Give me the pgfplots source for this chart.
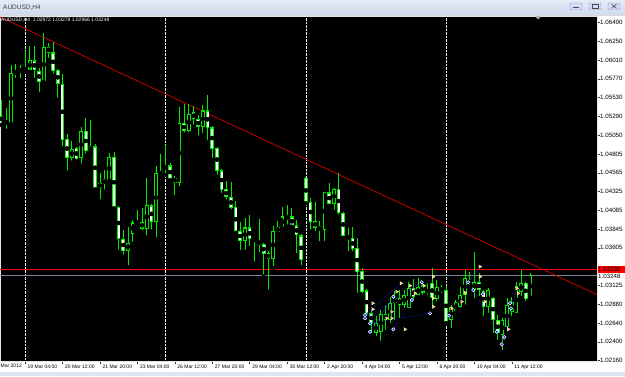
\documentclass[border=0pt]{standalone}
\usepackage{pgfplots}
\pgfplotsset{compat=1.18}
\usepackage{pgfplotstable}
\usepackage{fontspec}
\setmainfont{Liberation Sans}
\definecolor{candle}{RGB}{0,235,0}
\definecolor{bidgray}{RGB}{119,136,153}
\definecolor{titletop}{RGB}{228,236,247}
\definecolor{titlebot}{RGB}{205,219,238}
\definecolor{strip}{RGB}{219,230,244}
\definecolor{mkorange}{RGB}{255,170,40}
\definecolor{mkblue}{RGB}{20,40,255}

\pgfplotstableread{
i o h l c
-3 1.05200 1.05948 1.05191 1.05841
-2 1.05836 1.05957 1.05755 1.05871
-1 1.05862 1.05948 1.05755 1.05893
0 1.05890 1.06127 1.05862 1.05896
1 1.05893 1.06191 1.05862 1.06003
4 1.05734 1.06354 1.05730 1.06175
10 1.04759 1.04973 1.04695 1.04867
12 1.04759 1.05149 1.04657 1.05098
14 1.04845 1.05243 1.04823 1.04909
16 1.04375 1.04567 1.04204 1.04431
17 1.04431 1.04602 1.04323 1.04477
18 1.04477 1.04823 1.04460 1.04764
22 1.03567 1.03871 1.03354 1.03666
23 1.03781 1.03964 1.03653 1.03926
24 1.03926 1.04089 1.03875 1.03931
26 1.03854 1.04495 1.03734 1.04149
28 1.03935 1.04653 1.03713 1.04559
29 1.04537 1.04807 1.04508 1.04589
30 1.04611 1.04922 1.04537 1.04653
33 1.04439 1.05413 1.04367 1.05200
35 1.05105 1.05448 1.05059 1.05319
38 1.05157 1.05435 1.05050 1.05362
47 1.03691 1.03990 1.03554 1.03862
53 1.03464 1.03887 1.03341 1.03820
54 1.03811 1.03948 1.03790 1.03867
55 1.03875 1.04131 1.03854 1.04003
64 1.03832 1.04323 1.03662 1.04311
66 1.04175 1.04367 1.04067 1.04354
75 1.02512 1.02730 1.02448 1.02640
76 1.02525 1.02807 1.02384 1.02755
78 1.02678 1.02973 1.02614 1.02896
79 1.02896 1.03050 1.02653 1.02960
81 1.02871 1.03063 1.02807 1.02999
82 1.02832 1.03166 1.02807 1.03089
84 1.02999 1.03217 1.02973 1.03102
86 1.03037 1.03153 1.02973 1.03063
88 1.02948 1.03191 1.02896 1.03102
89 1.03063 1.03127 1.02999 1.03076
91 1.02678 1.02871 1.02550 1.02845
92 1.02781 1.02935 1.02768 1.02909
93 1.02849 1.03102 1.02807 1.02999
94 1.02999 1.03320 1.02849 1.03217
96 1.03063 1.03550 1.02935 1.03166
99 1.02845 1.03089 1.02743 1.03063
102 1.02486 1.02704 1.02268 1.02678
103 1.02593 1.02960 1.02550 1.02871
104 1.02781 1.02973 1.02704 1.02909
105 1.02768 1.03166 1.02743 1.03105
106 1.03041 1.03320 1.02960 1.03149
108 1.02972 1.03278 1.02966 1.03248
}\bull

\pgfplotstableread{
i o h l c
-5 1.05285 1.05499 1.05178 1.05230
-4 1.05230 1.05393 1.05102 1.05195
2 1.06003 1.06191 1.05755 1.05884
3 1.05871 1.05913 1.05572 1.05734
5 1.06175 1.06226 1.06012 1.06111
6 1.06105 1.06239 1.05811 1.05871
7 1.05880 1.05893 1.05499 1.05704
8 1.05704 1.05828 1.04880 1.04995
9 1.04995 1.05063 1.04567 1.04759
11 1.04875 1.04900 1.04708 1.04752
13 1.05102 1.05264 1.04785 1.04845
15 1.04900 1.04931 1.04354 1.04362
19 1.04764 1.04836 1.04111 1.04127
20 1.04127 1.04144 1.03554 1.03717
21 1.03717 1.03832 1.03490 1.03567
25 1.03931 1.04111 1.03803 1.03854
27 1.04144 1.04162 1.03811 1.03935
31 1.04657 1.04687 1.04473 1.04495
32 1.04495 1.04525 1.04255 1.04444
34 1.05200 1.05448 1.05059 1.05105
36 1.05341 1.05422 1.05157 1.05255
37 1.05251 1.05307 1.05021 1.05157
39 1.05362 1.05563 1.04957 1.05144
40 1.05144 1.05166 1.04730 1.04880
41 1.04880 1.04900 1.04516 1.04593
42 1.04593 1.04611 1.04281 1.04354
43 1.04358 1.04460 1.04195 1.04255
44 1.04255 1.04452 1.04076 1.04118
45 1.04123 1.04204 1.03790 1.03820
46 1.03820 1.03931 1.03546 1.03691
48 1.03862 1.04025 1.03598 1.03721
49 1.03721 1.03746 1.03400 1.03695
50 1.03691 1.03970 1.03525 1.03649
51 1.03649 1.03670 1.03234 1.03528
52 1.03528 1.03567 1.03041 1.03464
56 1.03999 1.04153 1.03875 1.03993
57 1.04003 1.04111 1.03875 1.03887
58 1.03887 1.03961 1.03512 1.03768
59 1.03759 1.03781 1.03354 1.03448
60 1.04495 1.04516 1.04175 1.04187
61 1.04187 1.04239 1.03811 1.03939
62 1.03948 1.04195 1.03790 1.03862
63 1.03875 1.03948 1.03662 1.03832
65 1.04311 1.04431 1.04131 1.04175
67 1.04354 1.04559 1.04003 1.04054
68 1.04054 1.04067 1.03726 1.03755
69 1.03755 1.03854 1.03534 1.03721
70 1.03726 1.03875 1.03534 1.03598
71 1.03598 1.03726 1.02999 1.03298
72 1.03298 1.03341 1.02999 1.03041
73 1.03054 1.03072 1.02700 1.02764
74 1.02768 1.02794 1.02486 1.02640
77 1.02755 1.02871 1.02525 1.02678
80 1.02960 1.03063 1.02678 1.02871
83 1.03089 1.03204 1.02909 1.02973
85 1.03127 1.03166 1.02973 1.03037
87 1.03153 1.03345 1.02832 1.02960
90 1.03063 1.03114 1.02640 1.02657
95 1.03178 1.03294 1.03102 1.03153
97 1.03166 1.03281 1.02960 1.03063
98 1.03041 1.03063 1.02704 1.02849
100 1.02960 1.02973 1.02486 1.02678
101 1.02678 1.02743 1.02396 1.02512
107 1.03149 1.03166 1.02896 1.02957
}\bear

\pgfplotsset{
  wick/.style={only marks, mark=none, forget plot,
    error bars/.cd, y dir=plus, y explicit, error mark=none,
    error bar style={candle, line width=0.75pt}},
  body/.style={only marks, mark=none, forget plot,
    error bars/.cd, y dir=both, y explicit, error mark=none,
    error bar style={#1}},
}

\begin{document}
\begin{tikzpicture}[x=1pt,y=1pt]
\path[use as bounding box] (0,0) rectangle (625,376);
\fill[white] (0,0) rectangle (625,376);
\shade[top color=titletop, bottom color=titlebot] (0,361) rectangle (625,376);
\draw[white!70!gray, line width=0.6pt] (0,361) -- (625,361);
\fill[strip] (0,0) rectangle (625,4.5);
\node[anchor=west, inner sep=0pt, text=black!75, font=\fontsize{6.5}{7}\selectfont] at (3,368.5) {AUDUSD,H4};
\foreach \bx in {570,589,608}{
  \draw[gray!80, fill=white!85!blue, rounded corners=1pt, line width=0.4pt] (\bx,366.5) rectangle ++(12,6.5);
}
\draw[black!70, line width=0.6pt] (573,368.3) -- (579,368.3);
\draw[black!70, line width=0.5pt] (592.5,367.8) rectangle (598.5,371.6);
\draw[black!70, line width=0.6pt] (611.5,367.6) -- (616.5,371.8) (611.5,371.8) -- (616.5,367.6);

\begin{axis}[
  at={(0pt,15pt)}, anchor=south west,
  width=597pt, height=345pt, scale only axis,
  xmin=-5.34, xmax=122.22, ymin=1.021528, ymax=1.065759,
  axis background/.style={fill=black},
  axis line style={draw=white!80!gray, line width=0.6pt},
  tick align=outside, xtick pos=bottom, ytick pos=right,
  major tick length=2.5pt,
  every tick/.style={black!80, line width=0.4pt},
  xtick={0,8,16,24,32,40,48,56,64,72,80,88,96,104},
  xticklabels={19 Mar 04:00,20 Mar 12:00,21 Mar 20:00,23 Mar 04:00,26 Mar 12:00,27 Mar 20:00,29 Mar 04:00,30 Mar 12:00,2 Apr 20:00,4 Apr 04:00,5 Apr 12:00,6 Apr 20:00,10 Apr 04:00,11 Apr 12:00},
  ytick={1.0649,1.0625,1.0601,1.0577,1.0553,1.0529,1.0505,1.04805,1.04565,1.04325,1.04085,1.03845,1.03605,1.03125,1.0288,1.0264,1.024,1.0216},
  yticklabels={1.06490,1.06250,1.06010,1.05770,1.05530,1.05290,1.05050,1.04805,1.04565,1.04325,1.04085,1.03845,1.03605,1.03125,1.02880,1.02640,1.02400,1.02160},
  xticklabel style={font=\fontsize{5}{6}\selectfont, anchor=north west, inner sep=0pt, xshift=2.5pt, yshift=-1pt},
  yticklabel style={font=\fontsize{6.2}{7}\selectfont, anchor=west, inner sep=0pt, xshift=0.5pt},
  extra x ticks={0,30,60,90},
  extra x tick labels={},
  extra x tick style={grid=major, major grid style={white!85!gray, densely dotted, line width=0.6pt}, major tick length=0pt},
  clip=true,
]
% horizontal price lines
\addplot[red, line width=0.6pt, forget plot] coordinates {(-6,1.03330) (124,1.03330)};
\addplot[bidgray, line width=1pt, forget plot] coordinates {(-6,1.03248) (124,1.03248)};
% trend line
\addplot[red!85!black, line width=0.7pt, forget plot] coordinates {(-6,1.06581) (124,1.02954)};

% candles: wicks
\addplot[wick] table[x=i, y=l, y error expr={\thisrow{h}-\thisrow{l}}] {\bull};
\addplot[wick] table[x=i, y=l, y error expr={\thisrow{h}-\thisrow{l}}] {\bear};
% candle bodies: outline
\addplot[body={candle, line width=3.7pt}] table[x=i, y expr={(\thisrow{o}+\thisrow{c})/2}, y error expr={abs(\thisrow{c}-\thisrow{o})/2+0.00004}] {\bull};
\addplot[body={candle, line width=3.7pt}] table[x=i, y expr={(\thisrow{o}+\thisrow{c})/2}, y error expr={abs(\thisrow{c}-\thisrow{o})/2+0.00004}] {\bear};
% candle bodies: fill
\addplot[body={black, line width=2.0pt}] table[x=i, y expr={(\thisrow{o}+\thisrow{c})/2}, y error expr={max(abs(\thisrow{c}-\thisrow{o})/2-0.0001,0)}] {\bull};
\addplot[body={white, line width=2.0pt}] table[x=i, y expr={(\thisrow{o}+\thisrow{c})/2}, y error expr={max(abs(\thisrow{c}-\thisrow{o})/2-0.0001,0)}] {\bear};

% pattern lines
\addplot[mkblue, densely dotted, line width=0.6pt, forget plot] coordinates {(72.65,1.02700) (84.76,1.03162)};
\addplot[mkblue, densely dotted, line width=0.6pt, forget plot] coordinates {(72.65,1.02743) (80.34,1.03149)};
\addplot[mkblue, densely dotted, line width=0.6pt, forget plot] coordinates {(73.72,1.02528) (78.70,1.02977)};
\addplot[mkblue, densely dotted, line width=0.6pt, forget plot] coordinates {(73.72,1.02636) (86.54,1.02764)};
\addplot[mkblue, densely dotted, line width=0.6pt, forget plot] coordinates {(78.70,1.02559) (82.63,1.02935)};
\addplot[mkblue, densely dotted, line width=0.6pt, forget plot] coordinates {(94.72,1.03162) (97.22,1.03362)};
\addplot[mkblue, densely dotted, line width=0.6pt, forget plot] coordinates {(95.79,1.03063) (100.79,1.02528)};
\addplot[mkblue, densely dotted, line width=0.6pt, forget plot] coordinates {(101.86,1.02367) (105.06,1.03085)};

% pattern markers
\addplot[only marks, mark=triangle*, mark size=1.8pt, mark options={fill=mkorange, draw=white!85!yellow, line width=0.4pt, rotate=-90}, forget plot] coordinates {
(74.3,1.02893) (74.3,1.02816) (77.29,1.02700) (78.35,1.02785) (78.35,1.02700)
(79.42,1.03041) (80.34,1.03149) (81.2,1.02559) (82.26,1.03118) (83.33,1.03021)
(85.26,1.03118) (87.24,1.03234) (87.24,1.02957) (87.24,1.02849) (91.17,1.02828)
(93.31,1.02913) (94.02,1.03028) (97.22,1.03362) (97.22,1.03234) (98.29,1.02913)
(101.13,1.02644) (103.27,1.02559) (105.06,1.03085) (105.4,1.03021)};
\addplot[only marks, mark=*, mark size=1.7pt, mark options={fill=mkblue, draw=white, line width=0.5pt}, forget plot] coordinates {
(72.65,1.02743) (72.65,1.02700) (73.72,1.02636) (73.72,1.02528) (78.7,1.02977)
(78.7,1.02559) (82.63,1.02935) (84.76,1.03162) (86.54,1.02764) (90.6,1.02734)
(94.72,1.03162) (95.79,1.03063) (97.8,1.03008) (100.79,1.02528) (101.86,1.02367)
(102.4,1.02457) (103.63,1.02893) (103.85,1.02828)};
\end{axis}

% chart header text and price labels
\node[anchor=west, inner sep=0pt, text=white, font=\fontsize{5}{6}\selectfont] at (1,356) {AUDUSD,H4\ \ 1.02972 1.03278 1.02966 1.03248};
\fill[gray!70] (535,359.5) -- (541,359.5) -- (538,356.5) -- cycle;
\node[anchor=north west, inner sep=0pt, text=black, font=\fontsize{5}{6}\selectfont] at (0.5,12.5) {Mar 2012};
\fill[red] (597.5,103) rectangle (625,110.5);
\node[anchor=west, inner sep=0pt, text=black, font=\fontsize{6.2}{7}\selectfont] at (598,106.7) {1.03330};
\fill[white] (597.5,96.3) rectangle (625,103);
\node[anchor=west, inner sep=0pt, text=black, font=\fontsize{6.2}{7}\selectfont] at (598,99.8) {1.03248};
\end{tikzpicture}
\end{document}
